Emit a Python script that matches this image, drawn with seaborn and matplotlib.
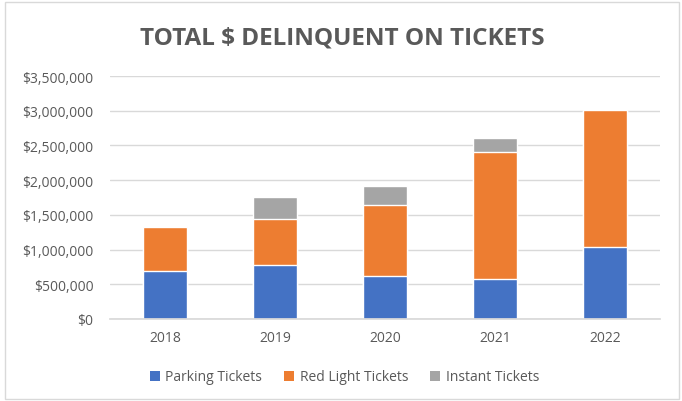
import numpy as np
import pandas as pd
import seaborn as sns
import matplotlib.pyplot as plt
from matplotlib.patches import Patch, Rectangle
from matplotlib.ticker import FuncFormatter

years = ["2018", "2019", "2020", "2021", "2022"]
parking = [697000, 774000, 615000, 577000, 1043000]
redLight = [625000, 668000, 1020000, 1827000, 1962000]
instant = [0, 318000, 278000, 206000, 0]

series = ["Parking Tickets", "Red Light Tickets", "Instant Tickets"]
colors = ["#4472C4", "#ED7D31", "#A5A5A5"]
textCol = "#595959"

sns.set_theme(style="white")
plt.rcParams["font.family"] = ["Open Sans", "DejaVu Sans"]

df = pd.DataFrame({"Year": years, "Parking": parking, "Red": redLight, "Instant": instant})
df["ParkRed"] = df["Parking"] + df["Red"]
df["Total"] = df["ParkRed"] + df["Instant"]

fig = plt.figure(figsize=(6.82, 4.02), dpi=100)
ax = fig.add_axes([110 / 682, 1 - 320 / 402, 550 / 682, 243 / 402])

# stack by overdrawing cumulative totals
sns.barplot(ax=ax, data=df, x="Year", y="Total", color=colors[2], width=0.4, saturation=1)
sns.barplot(ax=ax, data=df, x="Year", y="ParkRed", color=colors[1], width=0.4, saturation=1)
sns.barplot(ax=ax, data=df, x="Year", y="Parking", color=colors[0], width=0.4, saturation=1)

ax.set_ylim(0, 3500000)
ax.set_yticks(np.arange(0, 3500001, 500000))
ax.yaxis.set_major_formatter(FuncFormatter(lambda v, p: "${:,.0f}".format(v)))
ax.grid(axis="y", color="#D9D9D9", linewidth=1)
ax.set_axisbelow(True)
for s in ["top", "right", "left"]:
    ax.spines[s].set_visible(False)
ax.spines["bottom"].set_color("#D9D9D9")
ax.tick_params(axis="both", length=0, labelsize=10, labelcolor=textCol)
ax.tick_params(axis="y", pad=12)
ax.tick_params(axis="x", pad=8)
ax.set_xlabel("")
ax.set_ylabel("")

fig.text(0.502, 0.905, "TOTAL $ DELINQUENT ON TICKETS", ha="center", va="center",
         fontsize=17.5, fontweight="bold", color=textCol)

handles = [Patch(facecolor=c, edgecolor="none") for c in colors]
fig.legend(handles, series, loc="center", bbox_to_anchor=(0.505, 1 - 378 / 402), ncol=3,
           frameon=False, fontsize=10, labelcolor=textCol, handlelength=0.7, handleheight=0.7,
           handletextpad=0.4, columnspacing=1.6)

fig.add_artist(Rectangle((5 / 682, 2 / 402), 674 / 682, 397 / 402, transform=fig.transFigure,
                         fill=False, edgecolor="#D9D9D9", linewidth=1))

fig.savefig("out.png", dpi=100)
